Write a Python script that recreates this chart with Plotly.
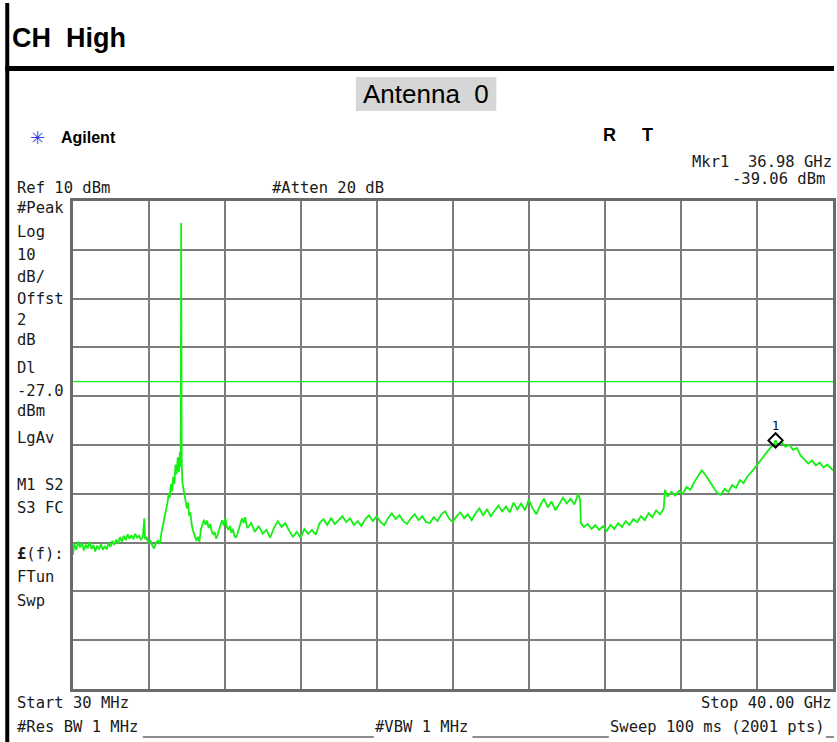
import plotly.graph_objects as go

freq_ghz = [
    0.03, 0.10, 0.20, 0.30, 0.40, 0.50, 0.60, 0.70, 0.80, 0.90,
    1.00, 1.10, 1.20, 1.30, 1.40, 1.50, 1.60, 1.70, 1.80, 1.90,
    2.00, 2.10, 2.20, 2.30, 2.40, 2.50, 2.60, 2.70, 2.80, 2.90,
    3.00, 3.10, 3.20, 3.30, 3.40, 3.50, 3.60, 3.70, 3.78, 3.82,
    3.90, 4.00, 4.10, 4.20, 4.30, 4.40, 4.50, 4.60, 4.68, 4.76,
    4.84, 4.92, 5.00, 5.06, 5.12, 5.18, 5.24, 5.30, 5.36, 5.42,
    5.48, 5.54, 5.60, 5.65, 5.69, 5.71, 5.72, 5.73, 5.745, 5.78,
    5.84, 5.90, 5.96, 6.02, 6.08, 6.14, 6.20, 6.28, 6.36, 6.44,
    6.52, 6.60, 6.68, 6.76, 6.84, 6.92, 7.00, 7.08, 7.16, 7.24,
    7.32, 7.40, 7.48, 7.56, 7.64, 7.72, 7.80, 7.88, 7.96, 8.04,
    8.12, 8.20, 8.28, 8.36, 8.44, 8.52, 8.60, 8.68, 8.76, 8.84,
    8.92, 9.00, 9.08, 9.16, 9.20, 9.40, 9.60, 9.80, 10.00, 10.20,
    10.40, 10.60, 10.80, 11.00, 11.20, 11.40, 11.60, 11.80, 12.00, 12.20,
    12.40, 12.60, 12.80, 13.00, 13.20, 13.40, 13.60, 13.80, 14.00, 14.20,
    14.40, 14.60, 14.80, 15.00, 15.20, 15.40, 15.60, 15.80, 16.00, 16.20,
    16.40, 16.60, 16.80, 17.00, 17.20, 17.40, 17.60, 17.80, 18.00, 18.20,
    18.40, 18.60, 18.80, 19.00, 19.20, 19.40, 19.60, 19.80, 20.00, 20.20,
    20.40, 20.60, 20.80, 21.00, 21.20, 21.40, 21.60, 21.80, 22.00, 22.20,
    22.40, 22.60, 22.80, 23.00, 23.20, 23.40, 23.60, 23.80, 24.00, 24.20,
    24.40, 24.60, 24.80, 25.00, 25.20, 25.40, 25.60, 25.80, 26.00, 26.20,
    26.40, 26.60, 26.70, 26.74, 26.90, 27.10, 27.30, 27.50, 27.70, 27.90,
    28.10, 28.30, 28.50, 28.70, 28.90, 29.10, 29.30, 29.50, 29.70, 29.90,
    30.10, 30.30, 30.50, 30.70, 30.90, 31.10, 31.16, 31.30, 31.50, 31.70,
    31.90, 32.10, 32.30, 32.50, 32.70, 32.90, 33.10, 33.30, 33.50, 33.70,
    33.90, 34.10, 34.30, 34.50, 34.70, 34.90, 35.10, 35.30, 35.50, 35.70,
    35.90, 36.10, 36.30, 36.50, 36.70, 36.90, 36.98, 37.10, 37.30, 37.50,
    37.70, 37.90, 38.10, 38.30, 38.50, 38.70, 38.90, 39.10, 39.30, 39.50,
    39.70, 39.90, 40.00,
]
level_dbm = [
    -62.5, -60.2, -61.5, -59.8, -61.0, -60.0, -61.6, -60.4, -61.2, -59.9,
    -61.3, -60.5, -61.8, -60.6, -61.4, -60.3, -61.5, -60.7, -61.4, -60.0,
    -60.9, -59.6, -60.5, -59.4, -60.2, -58.9, -59.8, -58.6, -59.5, -58.3,
    -59.2, -58.5, -59.3, -58.2, -59.0, -58.6, -59.4, -58.9, -55.0, -59.3,
    -59.0, -60.1, -59.5, -60.6, -61.2, -60.0, -59.6, -60.3, -58.0, -56.5,
    -55.0, -53.0, -51.8, -50.0, -50.8, -48.0, -49.5, -46.5, -48.0, -44.0,
    -46.0, -42.5, -45.5, -41.5, -44.5, -14.5, 5.5, -14.4, -43.0, -47.5,
    -49.0, -50.5, -51.5, -53.0, -51.8, -54.5, -53.8, -56.5, -57.8, -59.0,
    -59.6, -58.8, -59.8, -57.2, -56.0, -55.3, -56.4, -55.5, -57.0, -56.2,
    -57.6, -58.4, -57.8, -59.2, -58.4, -57.0, -56.2, -55.4, -56.5, -55.0,
    -56.8, -57.4, -56.6, -58.0, -57.2, -58.6, -59.0, -58.2, -57.0, -56.2,
    -55.0, -56.0, -54.8, -56.4, -57.0, -56.0, -57.8, -56.6, -58.2, -57.4,
    -59.0, -57.0, -55.6, -56.8, -56.0, -57.6, -58.8, -57.8, -59.0, -57.2,
    -58.2, -57.4, -58.4, -56.0, -55.2, -56.4, -55.0, -56.2, -55.4, -54.6,
    -55.8, -55.0, -56.4, -55.6, -56.6, -55.2, -54.4, -55.6, -54.6, -55.8,
    -56.4, -55.0, -54.0, -55.2, -54.4, -55.6, -56.2, -55.0, -54.2, -55.4,
    -54.6, -55.8, -56.0, -54.8, -55.6, -54.2, -53.6, -55.0, -55.8, -54.6,
    -53.8, -55.0, -54.2, -55.4, -54.0, -53.0, -54.4, -53.2, -54.6, -53.4,
    -52.4, -53.6, -52.6, -53.8, -51.8, -53.2, -52.0, -53.4, -51.2, -53.0,
    -54.2, -52.4, -51.0, -52.8, -51.6, -53.4, -52.2, -50.8, -52.0, -51.0,
    -52.2, -50.0, -51.2, -56.0, -56.8, -56.2, -57.2, -56.4, -57.4, -56.6,
    -57.6, -56.4, -57.2, -56.0, -56.8, -55.6, -56.4, -55.2, -55.8, -54.6,
    -55.4, -54.0, -54.8, -53.4, -54.2, -53.0, -49.2, -50.6, -49.6, -50.4,
    -49.4, -50.0, -48.6, -49.2, -47.6, -46.4, -45.2, -46.2, -47.4, -48.6,
    -49.8, -50.2, -49.0, -49.6, -48.2, -48.8, -47.2, -47.8, -46.4, -45.6,
    -44.6, -43.6, -42.6, -41.4, -40.6, -39.8, -39.06, -40.0, -39.4, -40.4,
    -40.0, -41.0, -40.6, -42.2, -43.0, -43.8, -43.2, -44.2, -43.6, -44.6,
    -44.0, -44.8, -45.2,
]

start_ghz = 0.03
stop_ghz = 40.00
ref_level_dbm = 10
db_per_div = 10
n_div = 10
display_line_dbm = -27.0
marker_freq_ghz = 36.98
marker_level_dbm = -39.06

# ---------------- layout helpers (pixel -> paper) ----------------
W, H = 837, 742
PL, PR, PT, PB = 73, 836, 201, 689


def px(x):
    return (x - PL) / (PR - PL)


def py(y):
    return (PB - y) / (PB - PT)


GREEN = "#14f014"
MONO = "DejaVu Sans Mono"
SANS = "Liberation Sans"
TXT = "#1a1a1a"

fig = go.Figure()
fig.add_trace(go.Scatter(
    x=freq_ghz, y=level_dbm, mode="lines",
    line=dict(color=GREEN, width=1.8), hoverinfo="skip", showlegend=False,
))
fig.add_hline(y=display_line_dbm, line=dict(color=GREEN, width=1.2))
fig.add_trace(go.Scatter(
    x=[marker_freq_ghz], y=[marker_level_dbm], mode="markers+text",
    marker=dict(symbol="diamond-open", size=11, color="black",
                line=dict(width=2, color="black")),
    text=["1"], textposition="top center",
    textfont=dict(family=MONO, size=12, color="black"),
    cliponaxis=False, showlegend=False, hoverinfo="skip",
))

span = stop_ghz - start_ghz
xticks = [start_ghz + i * span / n_div for i in range(n_div + 1)]
ybot = ref_level_dbm - n_div * db_per_div
yticks = [ybot + i * db_per_div for i in range(n_div + 1)]

axis_common = dict(
    showticklabels=False, ticks="", showgrid=True, gridcolor="#7c7c7c",
    gridwidth=2, zeroline=False, showline=True, linecolor="#6a6a6a",
    linewidth=3, mirror=True, fixedrange=True,
)
fig.update_xaxes(range=[start_ghz, stop_ghz], tickvals=xticks, **axis_common)
fig.update_yaxes(range=[ybot, ref_level_dbm], tickvals=yticks, **axis_common)

shapes = []
# black frame + header divider
for (x0, y0, x1, y1) in [(5, 3, 837, 8), (5, 3, 9, 742), (5, 66, 837, 71)]:
    shapes.append(dict(type="rect", xref="paper", yref="paper",
                       x0=px(x0), x1=px(x1), y0=py(y0), y1=py(y1),
                       fillcolor="black", line=dict(width=0), layer="above"))
# grey box behind "Antenna 0"
shapes.append(dict(type="rect", xref="paper", yref="paper",
                   x0=px(357), x1=px(498), y0=py(77), y1=py(111),
                   fillcolor="#d6d6d6", line=dict(width=0), layer="below"))
# underscore rulers in bottom status line
for (x0, x1) in [(143, 375), (474, 611), (829, 837)]:
    shapes.append(dict(type="line", xref="paper", yref="paper",
                       x0=px(x0), x1=px(x1), y0=py(737), y1=py(737),
                       line=dict(color=TXT, width=1)))

annotations = []


def ann(text, x, y, anchor="left", size=15.5, family=MONO, color=TXT):
    annotations.append(dict(
        text=text, xref="paper", yref="paper", x=px(x), y=py(y),
        xanchor=anchor, yanchor="middle", showarrow=False,
        font=dict(family=family, size=size, color=color), borderpad=0,
    ))


NB = "\u00a0"
ann("<b>CH" + NB + NB + "High</b>", 11, 38, size=27, family=SANS, color="black")
ann("Antenna" + NB + NB + "0", 427, 94, anchor="center", size=26, family=SANS, color="black")
ann("✳", 37, 137, anchor="center", size=18, family="DejaVu Sans", color="#3a3ae6")
ann("<b>Agilent</b>", 60, 137, size=16, family=SANS, color="black")
ann("<b>R</b>", 612, 135, anchor="center", size=18, family=SANS, color="black")
ann("<b>T</b>", 650, 135, anchor="center", size=18, family=SANS, color="black")
ann("Mkr1" + NB + NB + "36.98 GHz", 836, 162, anchor="right")
ann("-39.06 dBm", 829, 179, anchor="right")
ann("Ref 10 dBm", 16, 188)
ann("#Atten 20 dB", 272, 188)

left_labels = [
    ("#Peak", 208), ("Log", 232), ("10", 255), ("dB/", 277), ("Offst", 299),
    ("2", 320), ("dB", 340), ("Dl", 368), ("-27.0", 391), ("dBm", 411),
    ("LgAv", 438), ("<b>£</b>(f):", 554), ("FTun", 577), ("Swp", 601),
]
for t, y in left_labels:
    ann(t, 16, y)
ann("M1" + NB + "S2", 16, 485, size=15.5)
ann("S3" + NB + "FC", 16, 508, size=15.5)

ann("Start 30 MHz", 16, 703)
ann("Stop 40.00 GHz", 836, 703, anchor="right")
ann("#Res BW 1 MHz", 16, 727)
ann("#VBW 1 MHz", 375, 727)
ann("Sweep 100 ms (2001 pts)", 829, 727, anchor="right")

fig.update_layout(
    width=W, height=H,
    margin=dict(l=PL, r=W - PR, t=PT, b=H - PB, pad=0),
    paper_bgcolor="white", plot_bgcolor="white",
    showlegend=False, shapes=shapes, annotations=annotations,
)

fig.write_html(
    "out.html",
    config={"displayModeBar": False},
    post_script="document.body.style.margin='0px';document.body.style.overflow='hidden';",
)
